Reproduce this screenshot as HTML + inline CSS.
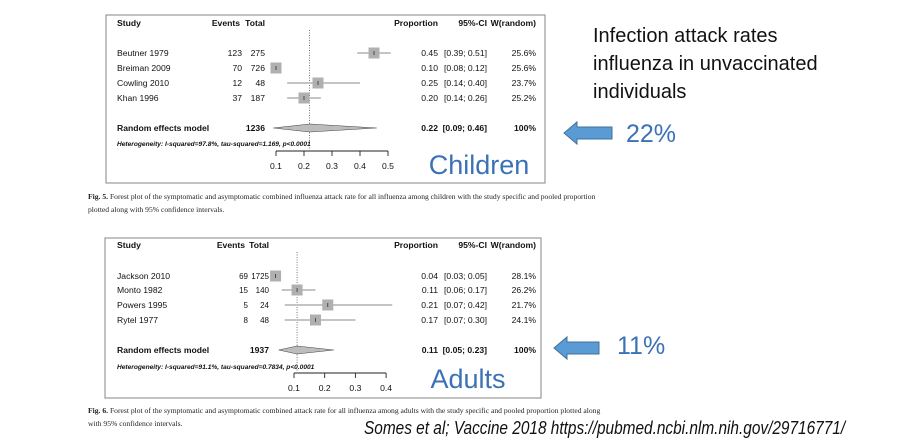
<!DOCTYPE html>
<html><head><meta charset="utf-8">
<style>
html,body{margin:0;padding:0;background:#fff;}
body{width:904px;height:444px;position:relative;overflow:hidden;font-family:"Liberation Sans",sans-serif;}
.abs{position:absolute;white-space:nowrap;}
.cap{font-family:"Liberation Serif",serif;font-size:7.6px;color:#222;}
.side{font-size:20px;color:#111;left:593px;}
.blue{color:#3a72b5;}
</style></head>
<body>
<svg id="chart" width="904" height="444" style="position:absolute;left:0;top:0" font-family="Liberation Sans, sans-serif"></svg>

<div class="abs cap" style="left:88px;top:192px"><b>Fig. 5.</b> Forest plot of the symptomatic and asymptomatic combined influenza attack rate for all influenza among children with the study specific and pooled proportion</div>
<div class="abs cap" style="left:88px;top:205px">plotted along with 95% confidence intervals.</div>
<div class="abs cap" style="left:88px;top:406px"><b>Fig. 6.</b> Forest plot of the symptomatic and asymptomatic combined attack rate for all influenza among adults with the study specific and pooled proportion plotted along</div>
<div class="abs cap" style="left:88px;top:419px">with 95% confidence intervals.</div>

<div class="abs side" style="top:25px">Infection attack rates</div>
<div class="abs side" style="top:53px">influenza in unvaccinated</div>
<div class="abs side" style="top:81px">individuals</div>
<div class="abs blue" style="left:626px;top:120px;font-size:25px">22%</div>
<div class="abs blue" style="left:617px;top:332px;font-size:25px">11%</div>
<div class="abs" style="left:364px;top:418px;font-size:18px;font-style:italic;color:#111;transform:scaleX(0.855);transform-origin:0 0">Somes et al; Vaccine 2018 https://pubmed.ncbi.nlm.nih.gov/29716771/</div>

<script>
// Children data
const childStudies=["Beutner 1979","Breiman 2009","Cowling 2010","Khan 1996"];
const childEvents=[123,70,12,37];
const childTotals=[275,726,48,187];
const childProp=[0.45,0.10,0.25,0.20];
const childLo=[0.39,0.08,0.14,0.14];
const childHi=[0.51,0.12,0.40,0.26];
const childW=["25.6%","25.6%","23.7%","25.2%"];
const childPooled=[0.22,0.09,0.46];
const childTicks=[0.1,0.2,0.3,0.4,0.5];
// Adults data
const adultStudies=["Jackson 2010","Monto 1982","Powers 1995","Rytel 1977"];
const adultEvents=[69,15,5,8];
const adultTotals=[1725,140,24,48];
const adultProp=[0.04,0.11,0.21,0.17];
const adultLo=[0.03,0.06,0.07,0.07];
const adultHi=[0.05,0.17,0.42,0.30];
const adultW=["28.1%","26.2%","21.7%","24.1%"];
const adultPooled=[0.11,0.05,0.23];
const adultTicks=[0.1,0.2,0.3,0.4];

const svg=document.getElementById('chart');
const NS="http://www.w3.org/2000/svg";
function mk(tag,attrs,parent){const e=document.createElementNS(NS,tag);for(const k in attrs)e.setAttribute(k,attrs[k]);(parent||svg).appendChild(e);return e;}
function txt(x,y,s,anchor,size,weight,parent,style){const t=mk('text',{x:x,y:y,'font-size':size,'text-anchor':anchor,'font-weight':weight||'normal','fill':'#111'},parent);if(style)t.setAttribute('font-style',style);t.textContent=s;return t;}
const f2=v=>v.toFixed(2);

function panel(cfg){
  const g=mk('g',{});
  
  
  const box=mk('rect',{x:cfg.bx,y:cfg.by,width:cfg.bw,height:cfg.bh,fill:'none',stroke:'#999','stroke-width':1.2},g);
  
  
  const xs=v=>cfg.x0+(v-cfg.t0)*cfg.k;
  const hy=cfg.hy;
  const hdr=[['Study',117,'start'],['Events',cfg.evH,'end'],['Total',cfg.tot,'end'],['Proportion',438,'end'],['95%-CI',487,'end'],['W(random)',536,'end']];
  hdr.forEach(h=>{const t=txt(h[1],hy,h[0],h[2],8.6,'bold',g);});
  const ref=xs(cfg.pooled[0]);
  const dl=mk('line',{x1:ref,x2:ref,y1:hy+4,y2:cfg.axisY-2,stroke:'#555','stroke-width':0.8,'stroke-dasharray':'1,1.5'},g);
  
  
  cfg.studies.forEach((s,i)=>{
    const y=cfg.rows[i];
    const r=mk('g',{},g);
    
    
    txt(117,y+3,s,'start',8.6,'normal',r);
    txt(cfg.ev,y+3,String(cfg.events[i]),'end',cfg.numSize,'normal',r);
    txt(cfg.tot,y+3,String(cfg.totals[i]),'end',cfg.numSize,'normal',r);
    const ci=mk('line',{x1:xs(cfg.lo[i]),x2:xs(cfg.hi[i]),y1:y,y2:y,stroke:'#888','stroke-width':1},r);
    
    
    const sq=mk('rect',{x:xs(cfg.prop[i])-5.5,y:y-5.5,width:11,height:11,fill:'#b0b0b0'},r);
    
    
    mk('line',{x1:xs(cfg.prop[i]),x2:xs(cfg.prop[i]),y1:y-2,y2:y+2,stroke:'#333','stroke-width':0.8},r);
    txt(438,y+3,f2(cfg.prop[i]),'end',8.6,'normal',r);
    txt(487,y+3,'['+f2(cfg.lo[i])+'; '+f2(cfg.hi[i])+']','end',8.6,'normal',r);
    txt(536,y+3,cfg.w[i],'end',8.6,'normal',r);
  });
  const py=cfg.poolY;
  txt(117,py+3,'Random effects model','start',8.6,'bold',g);
  txt(cfg.tot,py+3,String(cfg.totals.reduce((a,b)=>a+b,0)),'end',8.6,'bold',g);
  const p=cfg.pooled;
  const dm=mk('polygon',{points:`${xs(p[1])},${py} ${xs(p[0])},${py-4} ${xs(p[2])},${py} ${xs(p[0])},${py+4}`,fill:'#bdbdbd',stroke:'#444','stroke-width':0.6},g);
  
  
  txt(438,py+3,f2(p[0]),'end',8.6,'bold',g);
  txt(487,py+3,'['+f2(p[1])+'; '+f2(p[2])+']','end',8.6,'bold',g);
  txt(536,py+3,'100%','end',8.6,'bold',g);
  const het=txt(117,cfg.hetY+3,cfg.het,'start',6.6,'bold',g,'italic');
  
  
  const ax=cfg.axisY;
  const ticks=cfg.ticks;
  const al=mk('line',{x1:xs(ticks[0]),x2:xs(ticks[ticks.length-1]),y1:ax,y2:ax,stroke:'#222','stroke-width':0.9},g);
  
  
  ticks.forEach(t=>{
    mk('line',{x1:xs(t),x2:xs(t),y1:ax,y2:ax+5,stroke:'#222','stroke-width':0.9},g);
    const tl=txt(xs(t),ax+18,String(t),'middle',8.6,'normal',g);
    
    
  });
  const lab=mk('text',{x:cfg.labX,y:cfg.labY,'font-size':27,'text-anchor':'middle',fill:'#3a72b5'},g);
  lab.textContent=cfg.label;
  
  
}

panel({name:'children-forest-plot',bx:106,by:15,bw:439,bh:168,hy:26,ev:242,evH:240,tot:265,numSize:8.6,
  x0:276,t0:0.1,k:280,rows:[53,68,83,98],poolY:128,hetY:143,axisY:151,
  studies:childStudies,events:childEvents,totals:childTotals,prop:childProp,lo:childLo,hi:childHi,w:childW,
  pooled:childPooled,ticks:childTicks,het:'Heterogeneity: I-squared=97.8%, tau-squared=1.169, p<0.0001',
  label:'Children',labX:479,labY:174});
panel({name:'adults-forest-plot',bx:105,by:238,bw:436,bh:160,hy:248,ev:248,evH:245,tot:269,numSize:8,
  x0:294,t0:0.1,k:307,rows:[276,290,305,320],poolY:350,hetY:366,axisY:373,
  studies:adultStudies,events:adultEvents,totals:adultTotals,prop:adultProp,lo:adultLo,hi:adultHi,w:adultW,
  pooled:adultPooled,ticks:adultTicks,het:'Heterogeneity: I-squared=91.1%, tau-squared=0.7834, p<0.0001',
  label:'Adults',labX:468,labY:388});

function arrow(x0,x1,cy,name){
  const a=mk('polygon',{points:`${x0},${cy} ${x0+13},${cy-11} ${x0+13},${cy-6} ${x1},${cy-6} ${x1},${cy+6} ${x0+13},${cy+6} ${x0+13},${cy+11}`,fill:'#5b9bd5',stroke:'#41719c','stroke-width':1});
  
  
}
arrow(564,612,133,'children-arrow');
arrow(554,599,348,'adults-arrow');
</script>
</body></html>
